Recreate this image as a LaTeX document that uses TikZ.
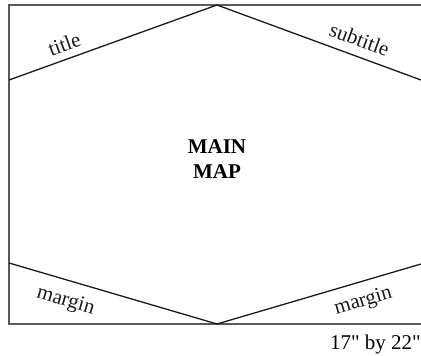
\documentclass[tikz,border=0pt]{standalone}
\usepackage{fontspec}
\setmainfont{Liberation Serif}
\usepackage{xcolor}
\usepackage{tikz}
\usetikzlibrary{positioning}
\definecolor{framegray}{HTML}{5A5A5A}
\definecolor{inkblack}{HTML}{1A1A1A}

\begin{document}
\begin{tikzpicture}[x=1pt, y=1pt, font=\fontsize{21}{25}\selectfont,
  sheetline/.style={color=framegray, line width=1.1pt},
  zoneline/.style={color=inkblack, line width=1.3pt},
  zonelabel/.style={sloped, inner sep=2pt}]
\useasboundingbox (0,0) rectangle (421,356);
% sheet, open at the right where the page cuts it
\draw[sheetline] (421,351) -- (9,351) -- (9,32) -- (421,32);
\coordinate (topleft)  at (9,276);
\coordinate (apex)     at (217,351);
\coordinate (topright) at (421,276);
\coordinate (botleft)  at (9,93);
\coordinate (foot)     at (217,32);
\coordinate (botright) at (421,92);
\draw[zoneline] (topleft) -- node[zonelabel, pos=0.29, above=5pt] (ttl) {title} (apex)
  -- node[zonelabel, pos=0.67, above=7pt] (subttl) {subtitle} (topright);
\draw[zoneline] (botleft) -- node[zonelabel, pos=0.30, below=9pt] (mrgl) {margin} (foot)
  -- node[zonelabel, pos=0.69, below=8pt] (mrgr) {margin} (botright);
\node[font=\fontsize{21}{25}\selectfont\bfseries, align=center] (mainmap) at (217,197) {MAIN\\MAP};
\node[anchor=base east, inner sep=0pt] (sheetsize) at (421,6) {17\textquotedbl{} by 22\textquotedbl};
\end{tikzpicture}
\end{document}
